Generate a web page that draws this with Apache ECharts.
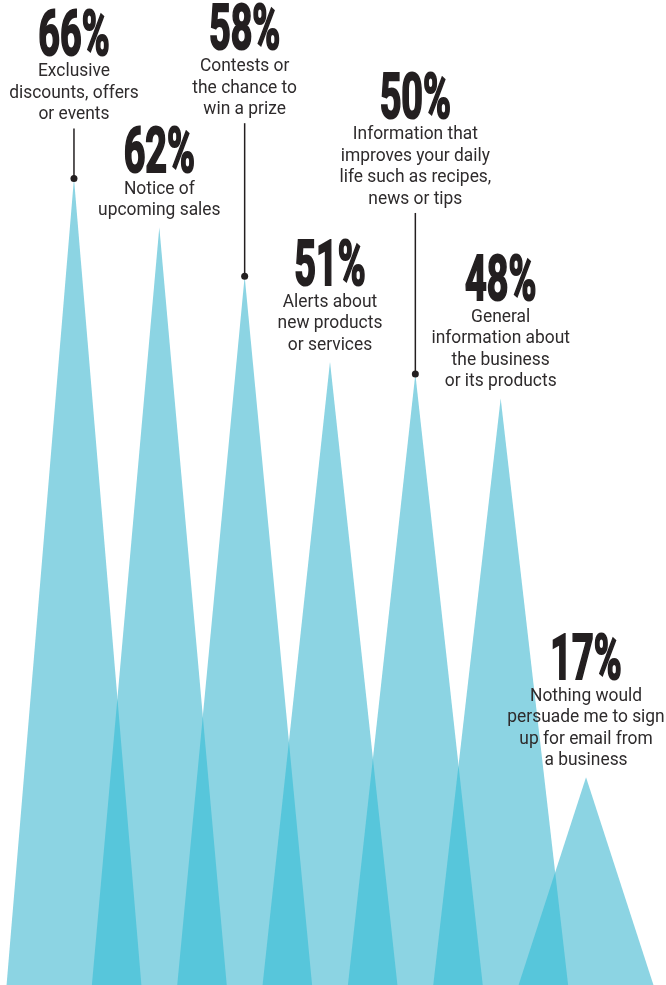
<!DOCTYPE html>
<html>
<head>
<meta charset="utf-8">
<script src="https://cdn.jsdelivr.net/npm/echarts@6/dist/echarts.min.js"></script>
<style>
  html, body { margin: 0; padding: 0; background: #ffffff; }
  #chart { width: 666px; height: 985px; }
</style>
</head>
<body>
<div id="chart"></div>
<script>
// Reasons people sign up for email from a business
const categories = [
  'Exclusive\ndiscounts, offers\nor events',
  'Notice of\nupcoming sales',
  'Contests or\nthe chance to\nwin a prize',
  'Alerts about\nnew products\nor services',
  'Information that\nimproves your daily\nlife such as recipes,\nnews or tips',
  'General\ninformation about\nthe business\nor its products',
  'Nothing would\npersuade me to sign\nup for email from\na business'
];
const shares = [66, 62, 58, 51, 50, 48, 17];

// Extra drop (px) between a label block and its peak, drawn as a leader line
const leaderDrop = [47, 0, 150, 0, 158, 0, 0];

const LIGHT = '#8cd4e3';
const DARK = '#57c6db';
const INK = '#231f20';
const TEXT = '#2e2b2c';
const SPREAD = 0.79;      // half base width of a peak, in category bands
const LINE_H = 21.5;

function renderItem(params, api) {
  const i = params.dataIndex;
  const v = api.value(1);
  const apex = api.coord([i, v]);
  const base = api.coord([i, 0]);
  const hw = api.size([1, 0])[0] * SPREAD;
  const children = [];

  children.push({
    type: 'polygon', z2: 1,
    shape: { points: [[apex[0] - hw, base[1]], [apex[0], apex[1]], [apex[0] + hw, base[1]]] },
    style: { fill: LIGHT }
  });

  // darker wedge where this peak overlaps the next one
  if (i < shares.length - 1) {
    const nApex = api.coord([i + 1, shares[i + 1]]);
    const x1 = apex[0] + hw;
    const x2 = nApex[0] - hw;
    const hA = base[1] - apex[1];
    const hB = base[1] - nApex[1];
    const h = (x1 - x2) / (hw / hA + hw / hB);
    const cx = x1 - hw * h / hA;
    children.push({
      type: 'polygon', z2: 2,
      shape: { points: [[x2, base[1]], [cx, base[1] - h], [x1, base[1]]] },
      style: { fill: DARK }
    });
  }

  const nLines = categories[i].split('\n').length;
  const descBottom = apex[1] - 6 - leaderDrop[i];
  const descTop = descBottom - nLines * LINE_H;

  children.push({
    type: 'text', z2: 10,
    x: apex[0], y: descBottom, scaleX: 0.94,
    style: {
      text: categories[i], font: '18.5px Roboto', fill: TEXT,
      align: 'center', verticalAlign: 'bottom', lineHeight: LINE_H
    }
  });

  children.push({
    type: 'text', z2: 10,
    x: apex[0], y: descTop - 22, scaleX: 0.6,
    style: {
      text: v + '%', font: 'bold 63px Roboto', fill: INK,
      stroke: INK, lineWidth: 2.2,
      align: 'center', verticalAlign: 'middle'
    }
  });

  if (leaderDrop[i] > 0) {
    children.push({
      type: 'line', z2: 10,
      shape: { x1: apex[0], y1: descBottom + 3, x2: apex[0], y2: apex[1] },
      style: { stroke: INK, lineWidth: 1.5 }
    });
    children.push({
      type: 'circle', z2: 11,
      shape: { cx: apex[0], cy: apex[1], r: 3.5 },
      style: { fill: INK }
    });
  }

  return { type: 'group', children: children };
}

const chart = echarts.init(document.getElementById('chart'), null, { renderer: 'canvas' });
chart.setOption({
  animation: false,
  backgroundColor: '#ffffff',
  grid: { left: 31.3, right: 37.3, top: 0, bottom: 0 },
  xAxis: { type: 'category', data: categories, show: false },
  yAxis: { type: 'value', min: 0, max: 80.6, show: false },
  series: [{
    type: 'custom',
    renderItem: renderItem,
    encode: { x: 0, y: 1 },
    data: shares.map((v, i) => [i, v]),
    clip: false
  }]
});
</script>
</body>
</html>
